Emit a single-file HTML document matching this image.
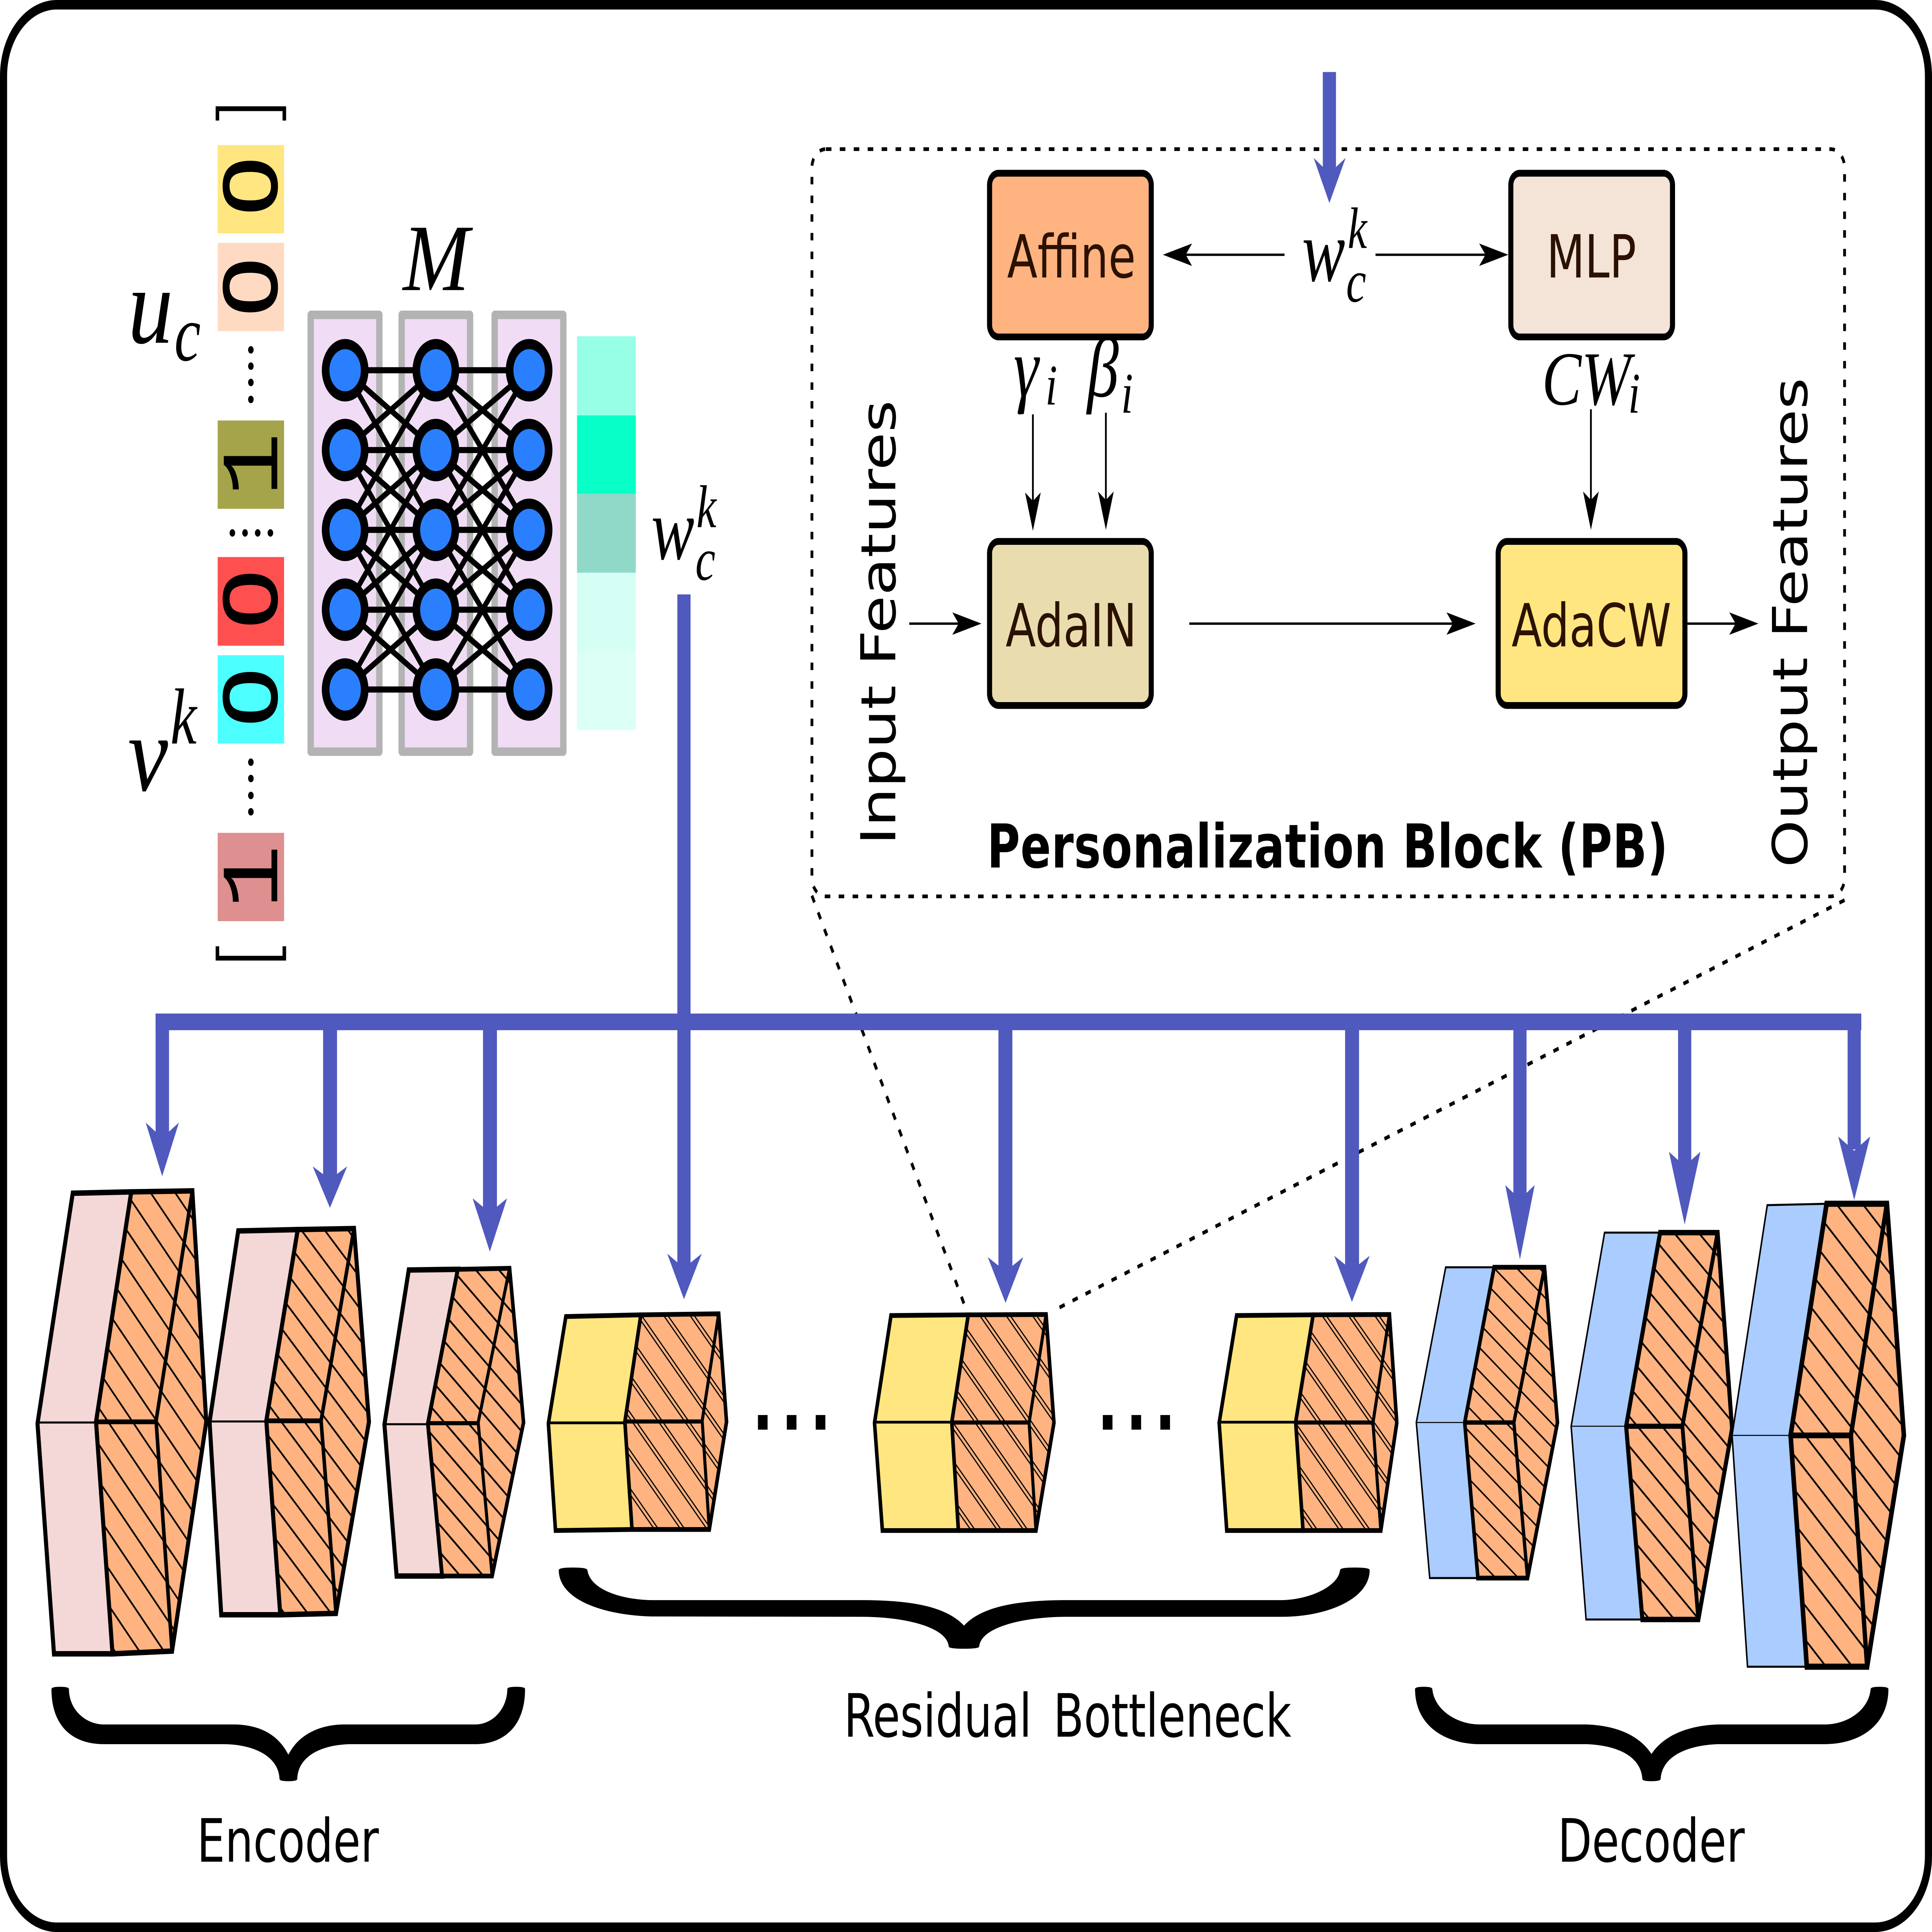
<!DOCTYPE html>
<html><head><meta charset="utf-8"><title>Personalization Block diagram</title>
<style>
html,body{margin:0;padding:0;background:#fff;width:100%;height:100%;overflow:hidden}
svg.root{display:block;position:absolute;left:0;top:0;width:50vw;height:50vh;transform:scale(2);transform-origin:0 0;will-change:transform}
.d{font-family:"DejaVu Sans",sans-serif}
.m{font-family:"Liberation Serif",serif;font-style:italic}
</style></head><body>
<svg class="root" xmlns="http://www.w3.org/2000/svg" viewBox="0 0 7624 5688" preserveAspectRatio="none">
<defs>
<pattern id="h1" patternUnits="userSpaceOnUse" width="400" height="72" patternTransform="rotate(48)"><line x1="0" y1="36" x2="400" y2="36" stroke="#000" stroke-width="6"/></pattern>
<pattern id="h2" patternUnits="userSpaceOnUse" width="400" height="65" patternTransform="rotate(45)"><line x1="0" y1="30" x2="400" y2="30" stroke="#000" stroke-width="6"/></pattern>
<pattern id="h3" patternUnits="userSpaceOnUse" width="400" height="60" patternTransform="rotate(41)"><line x1="0" y1="30" x2="400" y2="30" stroke="#000" stroke-width="6"/></pattern>
<pattern id="hb" patternUnits="userSpaceOnUse" width="400" height="76" patternTransform="rotate(47)"><line x1="0" y1="30" x2="400" y2="30" stroke="#000" stroke-width="4"/><line x1="0" y1="42" x2="400" y2="42" stroke="#000" stroke-width="4"/></pattern>
<pattern id="h7" patternUnits="userSpaceOnUse" width="400" height="55" patternTransform="rotate(38)"><line x1="0" y1="27" x2="400" y2="27" stroke="#000" stroke-width="5"/></pattern>
<pattern id="h8" patternUnits="userSpaceOnUse" width="400" height="65" patternTransform="rotate(42)"><line x1="0" y1="32" x2="400" y2="32" stroke="#000" stroke-width="6"/></pattern>
<pattern id="h9" patternUnits="userSpaceOnUse" width="400" height="72" patternTransform="rotate(44)"><line x1="0" y1="36" x2="400" y2="36" stroke="#000" stroke-width="6"/></pattern>
<path id="nn" fill="none" stroke="#000" stroke-width="18" d="M0 1090L358 1090M0 1090L358 1325M0 1090L358 1560M0 1325L358 1090M0 1325L358 1325M0 1325L358 1560M0 1325L358 1795M0 1560L358 1090M0 1560L358 1325M0 1560L358 1560M0 1560L358 1795M0 1560L358 2030M0 1795L358 1325M0 1795L358 1560M0 1795L358 1795M0 1795L358 2030M0 2030L358 1560M0 2030L358 1795M0 2030L358 2030"/>
</defs>
<rect width="7624" height="5688" fill="#fff"/>
<rect x="14" y="14" width="7596" height="5660" rx="210" ry="210" fill="#fff" stroke="#000" stroke-width="28"/>

<!-- one-hot vector -->
<path d="M858 355V320H1122V355" fill="none" stroke="#000" stroke-width="14"/>
<path d="M858 2786V2821H1122V2786" fill="none" stroke="#000" stroke-width="14"/>
<rect x="859" y="427" width="262" height="260" fill="#ffe680"/>
<rect x="859" y="715" width="262" height="260" fill="#ffdac2"/>
<rect x="859" y="1238" width="262" height="260" fill="#a5a44b"/>
<rect x="859" y="1640" width="262" height="261" fill="#ff5050"/>
<rect x="859" y="1929" width="262" height="260" fill="#4dffff"/>
<rect x="859" y="2452" width="262" height="260" fill="#de8f8f"/>
<g font-size="300" fill="#000" text-anchor="middle" font-family="Liberation Sans,sans-serif">
<text transform="translate(1091,548) rotate(-90)" stroke="#000" stroke-width="6">0</text>
<text transform="translate(1091,845) rotate(-90)" stroke="#000" stroke-width="6">0</text>
<text transform="translate(1091,1764) rotate(-90)" stroke="#000" stroke-width="6">0</text>
<text transform="translate(1091,2053) rotate(-90)" stroke="#000" stroke-width="6">0</text>
</g>
<g font-size="320" fill="#000" text-anchor="middle" font-family="Liberation Mono,monospace">
<text transform="translate(1094,1368) rotate(-90)">1</text>
<text transform="translate(1094,2582) rotate(-90)">1</text>
</g>
<g fill="#000">
<circle cx="990" cy="1030" r="11"/><circle cx="990" cy="1078" r="11"/><circle cx="990" cy="1126" r="11"/><circle cx="990" cy="1176" r="11"/>
<circle cx="917" cy="1569" r="11"/><circle cx="967" cy="1569" r="11"/><circle cx="1017" cy="1569" r="11"/><circle cx="1067" cy="1569" r="11"/>
<circle cx="990" cy="2244" r="11"/><circle cx="990" cy="2292" r="11"/><circle cx="990" cy="2342" r="11"/><circle cx="990" cy="2390" r="11"/>
</g>
<g class="m" fill="#000">
<text x="505" y="1009" font-size="320" textLength="178" lengthAdjust="spacingAndGlyphs">u</text>
<text x="688" y="1061" font-size="234">c</text>
<text x="505" y="2327" font-size="320" textLength="158" lengthAdjust="spacingAndGlyphs">v</text>
<text x="672" y="2189" font-size="234">k</text>
<text x="1590" y="854" font-size="280" textLength="262" lengthAdjust="spacingAndGlyphs">M</text>
<text x="2570" y="1646" font-size="260" textLength="170" lengthAdjust="spacingAndGlyphs">w</text>
<text x="2748" y="1552" font-size="178">k</text>
<text x="2744" y="1707" font-size="178">c</text>
</g>

<!-- mapping network -->
<g fill="#f0ddf5" stroke="#b3b3b3" stroke-width="25" stroke-linejoin="round">
<rect x="1226" y="927" width="271" height="1286"/>
<rect x="1585" y="927" width="270" height="1286"/>
<rect x="1952" y="927" width="271" height="1286"/>
</g>
<use href="#nn" transform="translate(1362,0)"/>
<use href="#nn" transform="translate(1720,0) scale(1.028,1)"/>
<g fill="#2a7fff" stroke="#000" stroke-width="30">
<circle cx="1362" cy="1090" r="77"/><circle cx="1362" cy="1325" r="77"/><circle cx="1362" cy="1560" r="77"/><circle cx="1362" cy="1795" r="77"/><circle cx="1362" cy="2030" r="77"/>
<circle cx="1720" cy="1090" r="77"/><circle cx="1720" cy="1325" r="77"/><circle cx="1720" cy="1560" r="77"/><circle cx="1720" cy="1795" r="77"/><circle cx="1720" cy="2030" r="77"/>
<circle cx="2088" cy="1090" r="77"/><circle cx="2088" cy="1325" r="77"/><circle cx="2088" cy="1560" r="77"/><circle cx="2088" cy="1795" r="77"/><circle cx="2088" cy="2030" r="77"/>
</g>
<rect x="2277" y="990" width="232" height="233" fill="#96ffe6"/>
<rect x="2277" y="1223" width="232" height="231" fill="#08ffc8"/>
<rect x="2277" y="1454" width="232" height="232" fill="#90d9c8"/>
<rect x="2277" y="1686" width="232" height="231" fill="#d5fff5"/>
<rect x="2277" y="1917" width="232" height="232" fill="#dcfff6"/>

<!-- personalization block -->
<rect x="3204" y="439" width="4075" height="2200" rx="55" ry="55" fill="none" stroke="#000" stroke-width="11" stroke-dasharray="22 33"/>
<path d="M3204 2637L3807 3844" fill="none" stroke="#000" stroke-width="11" stroke-dasharray="22 33"/>
<path d="M7279 2650L4169 3854" fill="none" stroke="#000" stroke-width="11" stroke-dasharray="22 33"/>
<g stroke="#000" stroke-width="20">
<rect x="3905" y="510" width="638" height="482" rx="35" fill="#ffb380"/>
<rect x="5962" y="510" width="638" height="482" rx="35" fill="#f4e3d7"/>
<rect x="3905" y="1594" width="638" height="483" rx="35" fill="#e9ddaf"/>
<rect x="5912" y="1594" width="737" height="483" rx="35" fill="#ffe680"/>
</g>
<g class="d" font-size="175" fill="#2b1100" text-anchor="middle">
<text x="4228" y="817">Affine</text>
<text x="6280" y="817">MLP</text>
<text x="4227" y="1903">AdaIN</text>
<text x="6280" y="1903">AdaCW</text>
</g>
<text class="d" x="3895" y="2554" font-size="178" font-weight="bold" fill="#000" textLength="2687" lengthAdjust="spacing">Personalization Block (PB)</text>
<text class="d" transform="translate(3533,2488) rotate(-90)" font-size="190" fill="#000" textLength="1310" lengthAdjust="spacingAndGlyphs">Input Features</text>
<text class="d" transform="translate(7131,2554) rotate(-90)" font-size="190" fill="#000" textLength="1442" lengthAdjust="spacingAndGlyphs">Output Features</text>

<g stroke="#000" stroke-width="7" fill="none">
<path d="M5069 750H4660M5428 750H5880M4076 1220V1480M4364 1215V1480M6278 1205V1480M3588 1836H3800M4693 1836H5750M6659 1836H6870"/>
</g>
<g fill="#000">
<polygon points="4589,750 4704,717 4679,750 4704,783"/>
<polygon points="5952,750 5837,717 5862,750 5837,783"/>
<polygon points="4076,1563 4045,1450 4076,1475 4107,1450"/>
<polygon points="4364,1560 4333,1447 4364,1472 4395,1447"/>
<polygon points="6278,1560 6247,1447 6278,1472 6309,1447"/>
<polygon points="3873,1836 3758,1803 3783,1836 3758,1869"/>
<polygon points="5823,1836 5708,1803 5733,1836 5708,1869"/>
<polygon points="6939,1836 6824,1803 6849,1836 6824,1869"/>
</g>
<g class="m" fill="#000">
<text x="5138" y="827" font-size="260" textLength="170" lengthAdjust="spacingAndGlyphs">w</text>
<text x="5318" y="730" font-size="172">k</text>
<text x="5312" y="888" font-size="178">c</text>
<text x="4000" y="1167" font-size="250">γ</text>
<text x="4125" y="1191" font-size="170">i</text>
<text x="4290" y="1167" font-size="250">β</text>
<text x="4424" y="1215" font-size="170">i</text>
<text x="6085" y="1191" font-size="225" textLength="350" lengthAdjust="spacingAndGlyphs">CW</text>
<text x="6425" y="1215" font-size="170">i</text>
</g>

<!-- blue wiring -->
<g fill="#5059bd">
<rect x="2673" y="1750" width="52" height="2020"/>
<rect x="614" y="2984" width="6731" height="49"/>
<rect x="5220" y="212" width="52" height="300"/>
<polygon points="5184,465 5246,510 5310,465 5246,598"/>
<rect x="614" y="2984" width="53" height="370"/>
<polygon points="575,3305 640,3350 706,3305 640,3463"/>
<rect x="1275" y="2984" width="55" height="490"/>
<polygon points="1234,3434 1302,3472 1370,3434 1302,3556"/>
<rect x="1906" y="2984" width="55" height="600"/>
<polygon points="1865,3528 1933,3570 2001,3528 1933,3685"/>
<polygon points="2633,3691 2699,3733 2769,3691 2699,3825"/>
<rect x="3940" y="2984" width="55" height="760"/>
<polygon points="3898,3701 3968,3743 4038,3701 3968,3836"/>
<rect x="5308" y="2984" width="55" height="760"/>
<polygon points="5265,3697 5335,3739 5405,3697 5335,3833"/>
<rect x="5972" y="2984" width="52" height="550"/>
<polygon points="5940,3489 5998,3531 6056,3489 5998,3708"/>
<rect x="6622" y="2984" width="52" height="450"/>
<polygon points="6586,3391 6648,3433 6710,3391 6648,3605"/>
<rect x="7291" y="2984" width="52" height="400"/>
<polygon points="7254,3346 7317,3388 7380,3346 7317,3533"/>
</g>

<!-- Encoder blocks -->
<g stroke="#000" stroke-linejoin="miter">
<polygon points="287,3513 518,3509 379,4186 444,4869 213,4869 148,4191" fill="#f4d7d7" stroke-width="16"/>
<path d="M148 4188H379" stroke-width="6" fill="none"/>
<polygon points="518,3509 759,3506 814,4186 679,4861 444,4869 379,4186" fill="#ffb380" stroke="none"/>
<polygon points="518,3509 759,3506 814,4186 679,4861 444,4869 379,4186" fill="url(#h1)" stroke-width="16"/>
<path d="M759 3506L616 4183L679 4861M379 4186H616" fill="none" stroke-width="14"/>

<polygon points="940,3624 1175,3620 1051,4183 1106,4754 873,4754 827,4186" fill="#f4d7d7" stroke-width="16"/>
<path d="M827 4185H1051" stroke-width="6" fill="none"/>
<polygon points="1175,3620 1397,3617 1456,4186 1326,4750 1106,4754 1051,4183" fill="#ffb380" stroke="none"/>
<polygon points="1175,3620 1397,3617 1456,4186 1326,4750 1106,4754 1051,4183" fill="url(#h2)" stroke-width="16"/>
<path d="M1397 3617L1267 4183L1326 4750M1051 4183H1267" fill="none" stroke-width="14"/>

<polygon points="1613,3739 1807,3737 1689,4191 1745,4640 1565,4640 1517,4194" fill="#f4d7d7" stroke-width="16"/>
<path d="M1517 4193H1689" stroke-width="6" fill="none"/>
<polygon points="1807,3737 2011,3734 2066,4188 1942,4640 1745,4640 1689,4191" fill="#ffb380" stroke="none"/>
<polygon points="1807,3737 2011,3734 2066,4188 1942,4640 1745,4640 1689,4191" fill="url(#h3)" stroke-width="14"/>
<path d="M2011 3734L1887 4188L1942 4640M1689 4190H1887" fill="none" stroke-width="12"/>
</g>

<!-- Bottleneck blocks -->
<g stroke="#000" stroke-linejoin="miter">
<polygon points="2233,3876 2529,3871 2466,4186 2494,4503 2192,4506 2164,4191" fill="#ffe680" stroke-width="14"/>
<path d="M2164 4189H2466" stroke-width="8" fill="none"/>
<polygon points="2529,3871 2836,3868 2867,4186 2799,4503 2494,4503 2466,4186" fill="#ffb380" stroke="none"/>
<polygon points="2529,3871 2836,3868 2867,4186 2799,4503 2494,4503 2466,4186" fill="url(#hb)" stroke-width="14"/>
<path d="M2836 3868L2771 4183L2799 4503M2466 4185H2771" fill="none" stroke-width="12"/>

<polygon points="3516,3873 3821,3871 3756,4187 3782,4506 3482,4506 3451,4189" fill="#ffe680" stroke-width="14"/>
<path d="M3451 4187H3756" stroke-width="8" fill="none"/>
<polygon points="3821,3871 4128,3870 4159,4189 4088,4506 3782,4506 3756,4187" fill="#ffb380" stroke="none"/>
<polygon points="3821,3871 4128,3870 4159,4189 4088,4506 3782,4506 3756,4187" fill="url(#hb)" stroke-width="14"/>
<path d="M4128 3870L4061 4189L4088 4506M3756 4188H4061" fill="none" stroke-width="12"/>

<polygon points="4880,3873 5182,3871 5113,4187 5142,4506 4841,4506 4811,4189" fill="#ffe680" stroke-width="14"/>
<path d="M4811 4187H5113" stroke-width="8" fill="none"/>
<polygon points="5182,3871 5483,3870 5512,4189 5449,4506 5142,4506 5113,4187" fill="#ffb380" stroke="none"/>
<polygon points="5182,3871 5483,3870 5512,4189 5449,4506 5142,4506 5113,4187" fill="url(#hb)" stroke-width="14"/>
<path d="M5483 3870L5418 4189L5449 4506M5113 4188H5418" fill="none" stroke-width="12"/>
</g>
<g fill="#000">
<rect x="2991" y="4166" width="38" height="43"/><rect x="3105" y="4166" width="38" height="43"/><rect x="3219" y="4166" width="38" height="43"/>
<rect x="4352" y="4166" width="38" height="43"/><rect x="4465" y="4166" width="38" height="43"/><rect x="4579" y="4166" width="38" height="43"/>
</g>

<!-- Decoder blocks -->
<g stroke="#000" stroke-linejoin="miter">
<polygon points="5705,3731 5896,3731 5780,4188 5832,4646 5642,4646 5589,4188" fill="#aaccff" stroke-width="6"/>
<path d="M5589 4188H5780" stroke-width="3" fill="none"/>
<polygon points="5896,3731 6095,3731 6146,4188 6028,4646 5832,4646 5780,4188" fill="#ffb380" stroke="none"/>
<polygon points="5896,3731 6095,3731 6146,4188 6028,4646 5832,4646 5780,4188" fill="url(#h7)" stroke-width="14"/>
<path d="M6095 3731L5974 4188L6028 4646M5780 4188H5974" fill="none" stroke-width="13"/>

<polygon points="6332,3629 6551,3629 6417,4199 6481,4768 6259,4768 6200,4199" fill="#aaccff" stroke-width="6"/>
<path d="M6200 4199H6417" stroke-width="3" fill="none"/>
<polygon points="6551,3629 6778,3629 6835,4206 6702,4768 6481,4768 6417,4199" fill="#ffb380" stroke="none"/>
<polygon points="6551,3629 6778,3629 6835,4206 6702,4768 6481,4768 6417,4199" fill="url(#h8)" stroke-width="16"/>
<path d="M6778 3629L6639 4199L6702 4768M6417 4199H6639" fill="none" stroke-width="15"/>

<polygon points="6974,3548 7208,3544 7066,4226 7130,4907 6896,4907 6835,4226" fill="#aaccff" stroke-width="6"/>
<path d="M6835 4226H7066" stroke-width="3" fill="none"/>
<polygon points="7208,3544 7446,3544 7513,4226 7368,4907 7130,4907 7066,4226" fill="#ffb380" stroke="none"/>
<polygon points="7208,3544 7446,3544 7513,4226 7368,4907 7130,4907 7066,4226" fill="url(#h9)" stroke-width="18"/>
<path d="M7446 3544L7304 4226L7368 4907M7066 4226H7304" fill="none" stroke-width="17"/>
</g>

<!-- Braces -->
<g fill="#000">
<path d="M203 4972Q205 4966 237 4966Q270 4966 272 4972C272 5035 340 5077 410 5077L920 5077C1030 5077 1100 5110 1138 5166C1176 5110 1256 5077 1360 5077L1875 5077C1945 5077 2002 5030 2002 4972Q2004 4966 2037 4966Q2070 4966 2072 4972C2072 5085 1985 5135 1875 5135L1390 5135C1270 5135 1175 5170 1173 5238Q1172 5244 1138 5244Q1104 5244 1103 5238C1100 5170 1000 5135 880 5135L410 5135C290 5135 203 5085 203 4972Z"/>
<path d="M2205 4622Q2207 4615 2260 4615Q2315 4615 2318 4622C2328 4680 2450 4709 2570 4711L3400 4711C3620 4711 3740 4735 3804 4786C3868 4735 3990 4711 4210 4711L5060 4711C5170 4709 5282 4670 5288 4622Q5290 4615 5345 4615Q5403 4615 5405 4622C5405 4710 5230 4760 5060 4760L4210 4760C4040 4760 3870 4790 3864 4848Q3862 4854 3804 4854Q3746 4854 3744 4848C3738 4790 3570 4760 3400 4760L2570 4759C2380 4755 2205 4710 2205 4622Z"/>
<path d="M5584 4972Q5586 4966 5618 4966Q5650 4966 5652 4972C5660 5035 5750 5077 5840 5077L6260 5077C6380 5080 6470 5110 6517 5164C6564 5110 6660 5080 6780 5077L7200 5077C7290 5077 7375 5035 7382 4972Q7384 4966 7417 4966Q7450 4966 7452 4972C7452 5085 7330 5135 7200 5135L6780 5135C6660 5138 6558 5170 6553 5238Q6552 5244 6517 5244Q6482 5244 6481 5238C6476 5170 6380 5138 6260 5135L5840 5135C5710 5135 5584 5085 5584 4972Z"/>
</g>
<g class="d" font-size="176" fill="#000">
<text x="777" y="5481" textLength="718" lengthAdjust="spacingAndGlyphs">Encoder</text>
<text x="6147" y="5481" textLength="738" lengthAdjust="spacingAndGlyphs">Decoder</text>
<text x="3330" y="5113" textLength="1766" lengthAdjust="spacing" style="word-spacing:30px">Residual Bottleneck</text>
</g>
</svg>
</body></html>
